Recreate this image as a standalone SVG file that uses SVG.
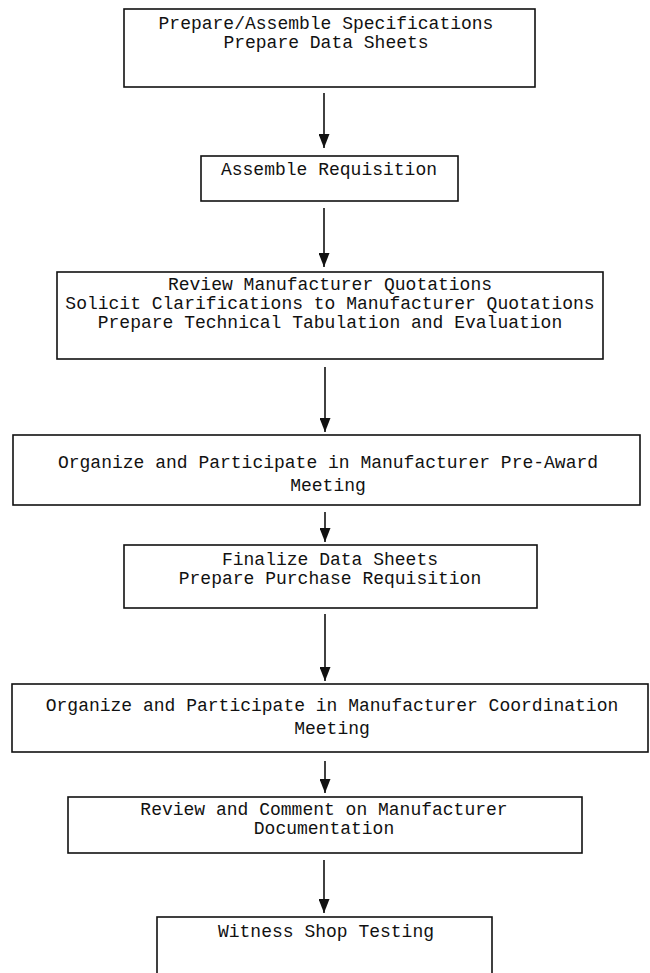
<svg xmlns="http://www.w3.org/2000/svg" width="650" height="973" viewBox="0 0 650 973">
<style>
.box{fill:#fff;stroke:#111;stroke-width:1.6}
.t{font-family:"Liberation Mono","Courier New",monospace;font-size:18px;fill:#111;text-anchor:middle}
.c{stroke:#111;stroke-width:1.6;fill:none}
</style>
<defs>
<marker id="arr" markerWidth="14" markerHeight="11" refX="14" refY="5.5" orient="auto" markerUnits="userSpaceOnUse" viewBox="0 0 14 11">
<path d="M0,0 L14,5.5 L0,11 Z" fill="#111"/>
</marker>
</defs>
<rect width="650" height="973" fill="#fff"/>
<g id="connectors">
<line class="c" x1="324" y1="93" x2="324" y2="148" marker-end="url(#arr)"/>
<line class="c" x1="324" y1="208" x2="324" y2="267" marker-end="url(#arr)"/>
<line class="c" x1="325" y1="367" x2="325" y2="432" marker-end="url(#arr)"/>
<line class="c" x1="325" y1="512" x2="325" y2="542" marker-end="url(#arr)"/>
<line class="c" x1="325" y1="614" x2="325" y2="681" marker-end="url(#arr)"/>
<line class="c" x1="325" y1="761" x2="325" y2="793" marker-end="url(#arr)"/>
<line class="c" x1="324" y1="860" x2="324" y2="913" marker-end="url(#arr)"/>
</g>
<g id="n1">
<rect class="box" x="124" y="9" width="411" height="78"/>
<text class="t" x="326" y="29">Prepare/Assemble Specifications</text>
<text class="t" x="326" y="48">Prepare Data Sheets</text>
</g>
<g id="n2">
<rect class="box" x="201" y="156" width="257" height="45"/>
<text class="t" x="329" y="175">Assemble Requisition</text>
</g>
<g id="n3">
<rect class="box" x="57" y="272" width="546" height="87"/>
<text class="t" x="330" y="290">Review Manufacturer Quotations</text>
<text class="t" x="330" y="309">Solicit Clarifications to Manufacturer Quotations</text>
<text class="t" x="330" y="328">Prepare Technical Tabulation and Evaluation</text>
</g>
<g id="n4">
<rect class="box" x="13" y="435" width="627" height="70"/>
<text class="t" x="328" y="468">Organize and Participate in Manufacturer Pre-Award</text>
<text class="t" x="328" y="491">Meeting</text>
</g>
<g id="n5">
<rect class="box" x="124" y="545" width="413" height="63"/>
<text class="t" x="330" y="565">Finalize Data Sheets</text>
<text class="t" x="330" y="584">Prepare Purchase Requisition</text>
</g>
<g id="n6">
<rect class="box" x="12" y="684" width="636" height="68"/>
<text class="t" x="332" y="711">Organize and Participate in Manufacturer Coordination</text>
<text class="t" x="332" y="734">Meeting</text>
</g>
<g id="n7">
<rect class="box" x="68" y="797" width="514" height="56"/>
<text class="t" x="324" y="815">Review and Comment on Manufacturer</text>
<text class="t" x="324" y="834">Documentation</text>
</g>
<g id="n8">
<rect class="box" x="157" y="917" width="335" height="70"/>
<text class="t" x="326" y="937">Witness Shop Testing</text>
</g>
</svg>
